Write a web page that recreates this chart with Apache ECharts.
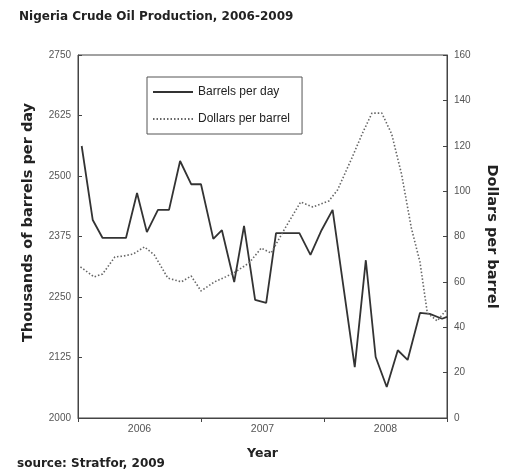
<!DOCTYPE html>
<html>
<head>
<meta charset="utf-8">
<script src="https://cdn.jsdelivr.net/npm/echarts@6/dist/echarts.min.js"></script>
<style>
html,body{margin:0;padding:0;background:#fff;}
#chart{width:505px;height:474px;}
</style>
</head>
<body>
<div id="chart"></div>
<script>
// Year labels shown on the x axis
const yearLabels = ["2006", "2007", "2008"];

// Barrels per day (thousands), positions as decimal years
const barrelsYears = [2006.03, 2006.12, 2006.20, 2006.39, 2006.48, 2006.56, 2006.65, 2006.74, 2006.83, 2006.92,
  2007.00, 2007.10, 2007.17, 2007.27, 2007.35, 2007.44, 2007.53, 2007.61, 2007.80, 2007.89, 2007.98,
  2008.07, 2008.25, 2008.34, 2008.42, 2008.51, 2008.60, 2008.68, 2008.78, 2008.86, 2008.96, 2009.00];
const barrelsValues = [2562, 2409, 2372, 2372, 2465, 2384, 2430, 2430, 2531, 2483,
  2483, 2370, 2388, 2281, 2397, 2244, 2238, 2382, 2382, 2337, 2388,
  2430, 2105, 2326, 2126, 2064, 2140, 2120, 2217, 2215, 2205, 2209];

// Dollars per barrel
const dollarsYears = [2006.02, 2006.13, 2006.20, 2006.30, 2006.37, 2006.45, 2006.54, 2006.62, 2006.73, 2006.84, 2006.92,
  2007.00, 2007.11, 2007.20, 2007.28, 2007.39, 2007.49, 2007.57, 2007.67, 2007.81, 2007.91,
  2008.04, 2008.11, 2008.23, 2008.31, 2008.39, 2008.47, 2008.55, 2008.63, 2008.71, 2008.78, 2008.84, 2008.92, 2009.00];
const dollarsValues = [66.6, 62.2, 63.5, 71.0, 71.4, 72.3, 75.4, 71.9, 61.7, 60.0, 62.6,
  56.0, 60.0, 62.2, 64.4, 68.3, 74.9, 72.7, 82.4, 95.2, 93.0,
  95.7, 100.5, 115.0, 125.2, 134.4, 134.4, 125.2, 107.6, 83.8, 68.8, 46.3, 42.8, 48.0];

const barrelsData = barrelsYears.map((y, i) => [y, barrelsValues[i]]);
const dollarsData = dollarsYears.map((y, i) => [y, dollarsValues[i]]);

const FONT = '"Liberation Sans", Arial, sans-serif';
const BOLDFONT = '"DejaVu Sans", "Liberation Sans", sans-serif';
const chart = echarts.init(document.getElementById('chart'), null, {renderer: 'canvas'});
chart.setOption({
  animation: false,
  backgroundColor: '#fff',
  textStyle: {fontFamily: FONT},
  title: {
    text: 'Nigeria Crude Oil Production, 2006-2009',
    left: 14, top: 6,
    textStyle: {fontSize: 12, fontWeight: 'bold', color: '#222', fontFamily: BOLDFONT}
  },
  grid: {left: 78, right: 58, top: 55, bottom: 56, show: true, borderColor: '#444', borderWidth: 1,
    backgroundColor: 'transparent', containLabel: false, outerBoundsMode: 'none'},
  legend: {
    left: 147, top: 77, orient: 'vertical',
    borderColor: '#555', borderWidth: 1,
    padding: [9, 12, 9, 5],
    itemWidth: 40, itemHeight: 14, itemGap: 15, itemTextGap: 10,
    itemStyle: {opacity: 0},
    textStyle: {fontSize: 12, color: '#222', fontFamily: FONT},
    data: ['Barrels per day', 'Dollars per barrel']
  },
  xAxis: [
    {
      type: 'value', min: 2006, max: 2009, interval: 1,
      axisLine: {lineStyle: {color: '#444', width: 1}},
      axisTick: {show: true, inside: false, length: 4, lineStyle: {color: '#444'}},
      axisLabel: {show: false},
      splitLine: {show: false}
    },
    {
      type: 'category', data: yearLabels, position: 'bottom', boundaryGap: true,
      axisLine: {show: false}, axisTick: {show: false},
      axisLabel: {fontSize: 10.5, color: '#555', margin: 6, fontFamily: FONT},
      name: 'Year', nameLocation: 'middle', nameGap: 29,
      nameTextStyle: {fontSize: 12.5, fontWeight: 'bold', color: '#222', fontFamily: BOLDFONT}
    }
  ],
  yAxis: [
    {
      type: 'value', min: 2000, max: 2750, interval: 125,
      axisLine: {show: true, lineStyle: {color: '#444'}},
      axisTick: {show: true, inside: true, length: 4, lineStyle: {color: '#444'}},
      axisLabel: {fontSize: 10, color: '#555', margin: 7, fontFamily: FONT, formatter: v => String(v)},
      splitLine: {show: false},
      name: 'Thousands of barrels per day', nameLocation: 'middle', nameGap: 42, nameRotate: 90,
      nameTextStyle: {fontSize: 14.5, fontWeight: 'bold', color: '#222', fontFamily: BOLDFONT, padding: [0, 0, 0, 28]}
    },
    {
      type: 'value', min: 0, max: 160, interval: 20, position: 'right',
      axisLine: {show: true, lineStyle: {color: '#444'}},
      axisTick: {show: true, inside: true, length: 4, lineStyle: {color: '#444'}},
      axisLabel: {fontSize: 10, color: '#555', margin: 7, fontFamily: FONT},
      splitLine: {show: false},
      name: 'Dollars per barrel', nameLocation: 'middle', nameGap: 37, nameRotate: -90,
      nameTextStyle: {fontSize: 14.5, fontWeight: 'bold', color: '#222', fontFamily: BOLDFONT}
    }
  ],
  series: [
    {
      name: 'Barrels per day', type: 'line', xAxisIndex: 0, yAxisIndex: 0,
      data: barrelsData, symbol: 'none', smooth: false,
      lineStyle: {color: '#333', width: 1.8, type: 'solid'},
      itemStyle: {color: '#333'}
    },
    {
      name: 'Dollars per barrel', type: 'line', xAxisIndex: 0, yAxisIndex: 1,
      data: dollarsData, symbol: 'none', smooth: false,
      lineStyle: {color: '#666', width: 1.6, type: [1.5, 2]},
      itemStyle: {color: '#666'}
    }
  ],
  graphic: [
    {
      type: 'text', left: 17, top: 458,
      style: {text: 'source: Stratfor, 2009', fontSize: 12, fontWeight: 'bold', fill: '#222', fontFamily: BOLDFONT}
    }
  ]
});
</script>
</body>
</html>
